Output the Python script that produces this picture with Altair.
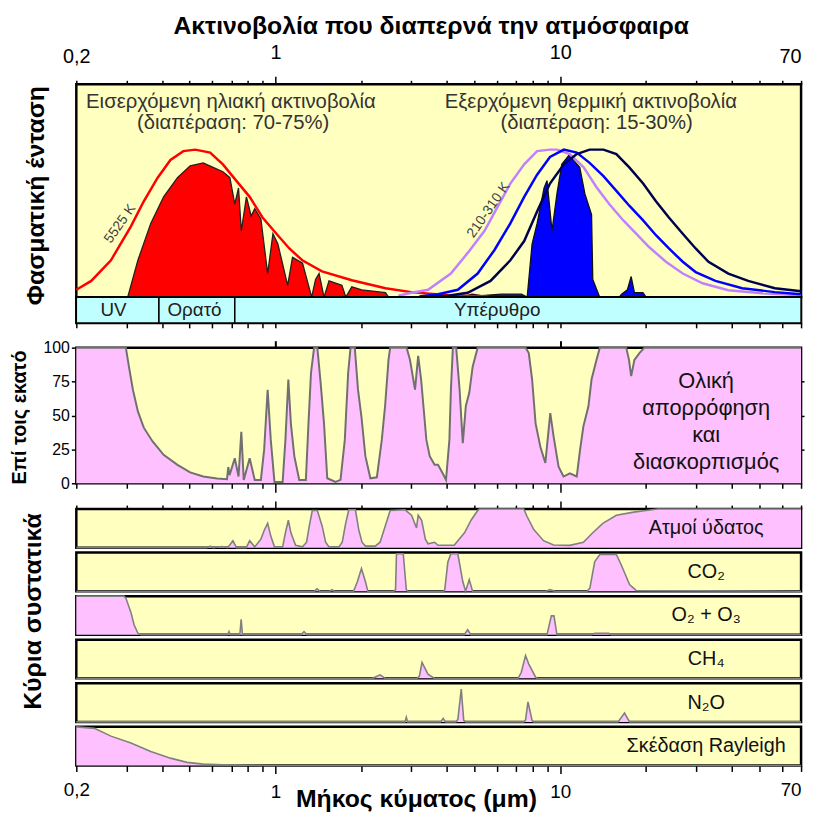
import altair as alt
import pandas as pd

# ---------------- data (wavelength in µm) ----------------
TICK_VALUES = [0.2, 0.3, 0.4, 0.5, 0.6, 0.7, 0.8, 0.9, 1, 2, 3, 4, 5, 6, 7, 8, 9, 10, 20, 30, 40, 50, 60, 70]
LABELLED_TICKS = [0.2, 1, 10, 70]

# incoming solar: 5525 K black-body curve (relative)
SUN_BB_WL = [0.2, 0.2256, 0.2646, 0.311, 0.345, 0.386, 0.428, 0.475, 0.523, 0.59, 0.654, 0.732, 0.812,
             0.901, 1.008, 1.119, 1.242, 1.457, 1.854, 2.434, 2.998, 4.03, 5.55]
SUN_BB_I = [0.05, 0.11, 0.25, 0.48, 0.65, 0.81, 0.93, 0.99, 1.0, 0.98, 0.90, 0.785, 0.68,
            0.54, 0.43, 0.33, 0.25, 0.175, 0.115, 0.06, 0.034, 0.013, 0.005]

# transmitted solar radiation (red area)
SUN_TR_WL = [0.303, 0.329, 0.365, 0.405, 0.453, 0.502, 0.558, 0.604, 0.654, 0.692, 0.720, 0.742, 0.759,
             0.791, 0.822, 0.846, 0.889, 0.939, 0.980, 1.02, 1.104, 1.148, 1.245, 1.340, 1.383, 1.423,
             1.481, 1.542, 1.711, 1.767, 1.854, 2.008, 2.434, 2.494, 2.6]
SUN_TR_I = [0, 0.25, 0.50, 0.68, 0.81, 0.89, 0.91, 0.88, 0.85, 0.81, 0.63, 0.74, 0.45,
            0.68, 0.55, 0.60, 0.53, 0.16, 0.43, 0.36, 0.08, 0.27, 0.23, 0.0, 0.12, 0.16,
            0.0, 0.11, 0.08, 0.0, 0.07, 0.05, 0.03, 0.0, 0.0]

# outgoing thermal black-body curves (relative)
WARM_WL = [2.70, 3.0, 3.434, 4.128, 4.732, 5.42, 6.016, 6.676, 7.468, 8.288, 9.198, 9.728, 10.79,
           12.08, 13.40, 14.87, 16.64, 18.46, 20.48, 23.48, 26.90, 31.57, 38.88, 51.05, 70]
WARM_I = [0.01, 0.03, 0.05, 0.16, 0.30, 0.45, 0.61, 0.77, 0.90, 0.99, 1.0, 1.0, 0.97,
          0.88, 0.745, 0.63, 0.52, 0.43, 0.34, 0.24, 0.16, 0.094, 0.047, 0.027, 0.013]
MID_WL = [3.2, 3.72, 4.368, 5.126, 5.874, 6.676, 7.468, 8.288, 9.198, 10.29, 11.42, 12.67, 14.17,
          15.73, 17.46, 19.53, 21.66, 24.05, 26.90, 29.86, 35.04, 43.50, 56.66, 70]
MID_I = [0.005, 0.02, 0.05, 0.16, 0.32, 0.50, 0.68, 0.83, 0.95, 1.0, 0.98, 0.91, 0.82,
         0.72, 0.62, 0.52, 0.42, 0.33, 0.24, 0.17, 0.11, 0.06, 0.034, 0.02]
COLD_WL = [3.5, 4.03, 4.732, 5.688, 6.676, 7.468, 8.288, 9.198, 10.29, 11.42, 12.67, 14.17, 15.73,
           17.46, 19.53, 21.66, 24.05, 26.90, 29.86, 33.12, 38.88, 45.64, 56.66, 70]
COLD_I = [0.003, 0.01, 0.03, 0.11, 0.25, 0.38, 0.58, 0.77, 0.90, 0.97, 1.0, 1.0, 0.97,
          0.88, 0.77, 0.65, 0.54, 0.43, 0.33, 0.24, 0.16, 0.11, 0.06, 0.04]

# transmitted thermal radiation (blue area)
EARTH_TR_WL = [4.5, 4.9, 5.3, 6.2, 7.3, 7.65, 7.96, 8.29, 8.77, 8.98, 9.35, 9.73, 10.12, 10.8, 11.1,
               11.7, 12.2, 12.87, 13.0, 13.75, 16.1, 16.4, 17.2, 17.73, 18.2, 19.5, 20.0]
EARTH_TR_I = [0, 0.02, 0.01, 0.02, 0.02, 0, 0.36, 0.50, 0.74, 0.79, 0.45, 0.70, 0.90, 0.97, 0.93,
              0.88, 0.70, 0.56, 0.12, 0, 0, 0.02, 0.05, 0.14, 0.03, 0.03, 0]

# spectral regions
BAND_START = [0.2, 0.39, 0.72]
BAND_END = [0.39, 0.72, 70]
BAND_LABEL = ["UV", "Ορατό", "Υπέρυθρο"]
BAND_LABEL_WL = [0.27, 0.52, 6.0]

# total absorption and scattering (%)
ABS_WL = [0.2, 0.2985, 0.306, 0.316, 0.329, 0.345, 0.370, 0.405, 0.453, 0.502, 0.558, 0.624, 0.676, 0.683,
          0.69, 0.720, 0.742, 0.759, 0.774, 0.812, 0.846, 0.889, 0.913, 0.939, 0.963, 0.992, 1.06, 1.084,
          1.110, 1.133, 1.165, 1.212, 1.279, 1.306, 1.333, 1.367, 1.403, 1.441, 1.481, 1.520, 1.625, 1.692,
          1.752, 1.800, 1.835, 1.899, 1.949, 2.004, 2.069, 2.154, 2.27, 2.362, 2.426, 2.494, 2.528, 2.887,
          2.967, 3.09, 3.17, 3.246, 3.387, 3.48, 3.62, 3.72, 3.872, 3.97, 4.08, 4.13, 4.196, 4.31, 4.43,
          4.546, 4.66, 4.79, 4.924, 5.126, 7.55, 7.75, 7.962, 8.19, 8.51, 8.86, 9.22, 9.47, 9.86, 10.26,
          10.8, 11.42, 11.73, 12.05, 12.55, 12.87, 13.40, 13.76, 17.04, 17.42, 17.73, 18.2, 18.95, 19.73, 70]
ABS_V = [100, 100, 86, 69, 53, 41, 31, 21, 13.6, 8, 5, 3.5, 3, 12,
         6, 18.5, 5, 38, 2.5, 18.5, 2.5, 2.5, 25, 69, 32, 1, 1, 32,
         76.5, 44, 20, 2.5, 2.5, 44, 81.5, 100, 100, 74, 44, 3.7, 1, 2.5,
         32, 81.5, 100, 100, 69, 49, 20, 3.7, 4.4, 32, 57, 91, 100, 100,
         91, 69, 94, 76.5, 32, 20, 13.6, 13.6, 7, 2.5, 32, 69, 100, 100, 69,
         29.6, 57, 66.7, 86, 100, 100, 96, 76.5, 44, 27, 15, 51.8, 34.6, 12.3, 5,
         7.4, 5, 24.7, 42, 56.8, 76.5, 91, 100, 100, 91, 79, 91, 96, 100, 100]

# main constituents (% absorption)
H2O_WL = [0.2, 0.574, 0.590, 0.604, 0.65, 0.68, 0.709, 0.73, 0.79, 0.812, 0.846, 0.889, 0.916, 0.939, 0.963,
          0.992, 1.06, 1.084, 1.11, 1.133, 1.177, 1.245, 1.286, 1.314, 1.347, 1.403, 1.46, 1.50, 1.542, 1.67,
          1.716, 1.764, 1.809, 1.909, 1.96, 2.013, 2.069, 2.24, 2.33, 2.426, 2.528, 2.85, 3.004, 3.128, 3.17,
          3.26, 3.36, 3.434, 3.62, 3.72, 4.24, 4.61, 4.86, 5.126, 5.2, 7.44, 7.65, 8.07, 8.73, 9.47, 10.8,
          12.05, 13.0, 14.1, 15.73, 18.1, 20.0, 22.0, 70]
H2O_V = [0, 0, 4, 0, 3, 0, 18, 0, 0, 18, 2, 22, 47, 63, 30,
         2, 2, 38.5, 71, 38.5, 6, 2, 14, 55, 96, 96, 55, 14, 2, 2,
         14, 63, 98, 98, 47, 14, 4, 4, 14, 55, 96, 98, 84, 51, 84,
         71, 22, 10, 14, 6, 6, 38.5, 71, 96, 100, 100, 80, 47, 18, 7, 6,
         14, 38.5, 63, 84, 92, 96, 100, 100]
CO2_WL = [0.2, 1.37, 1.40, 1.43, 1.55, 1.58, 1.61, 1.88, 1.94, 2.004, 2.069, 2.11, 2.60, 2.64, 2.66, 2.81,
          2.88, 2.92, 3.90, 3.93, 4.03, 4.13, 4.368, 4.546, 4.65, 4.79, 4.92, 8.9, 9.2, 9.6, 12.4, 12.7,
          13.2, 13.76, 15.73, 16.37, 17.5, 18.46, 70]
CO2_V = [0, 0, 6, 0, 0, 4, 0, 0, 25, 59, 25, 0, 0, 4, 97, 97,
         4, 0, 0, 4, 76, 97, 97, 25, 0, 30, 0, 0, 4, 0, 0, 8,
         76, 95, 95, 68, 17, 2, 0]
O3_WL = [0.2, 0.294, 0.2985, 0.311, 0.319, 0.329, 0.337, 0.68, 0.687, 0.694, 0.75, 0.758, 0.766, 1.23,
         1.26, 1.29, 4.6, 4.73, 4.85, 8.98, 9.3, 9.5, 9.73, 12.9, 13.2, 14.8, 15.1, 70]
O3_V = [100, 100, 95, 58, 26, 4, 0, 0, 8, 0, 0, 40, 0, 0,
        8, 0, 0, 13, 0, 0, 49, 49, 0, 0, 4, 4, 0, 0]
CH4_WL = [0.2, 2.19, 2.33, 2.43, 3.13, 3.2, 3.27, 3.43, 3.62, 7.1, 7.29, 7.55, 7.75, 8.19, 8.3, 70]
CH4_V = [0, 0, 9, 0, 0, 5, 41, 11, 0, 0, 15, 59, 37, 3, 0, 0]
N2O_WL = [0.2, 2.85, 2.88, 2.91, 3.8, 3.88, 3.95, 4.3, 4.37, 4.49, 4.58, 4.65, 7.45, 7.55, 7.70, 7.96,
          8.05, 15.95, 16.8, 17.5, 70]
N2O_V = [0, 0, 12, 0, 0, 9, 0, 0, 7, 85, 4, 0, 0, 5, 52, 4, 0, 0, 23, 0, 0]
RAY_WL = [0.2, 0.2316, 0.2646, 0.311, 0.365, 0.428, 0.489, 0.558, 0.653, 0.75, 0.953, 70]
RAY_V = [100, 96, 76, 58, 36, 19, 8, 3.5, 1.8, 1, 0, 0]

COMPONENT_NAMES = ["Ατμοί ύδατος", "CO₂", "O₂ + O₃", "CH₄", "N₂O", "Σκέδαση Rayleigh"]
COMPONENT_WL = [H2O_WL, CO2_WL, O3_WL, CH4_WL, N2O_WL, RAY_WL]
COMPONENT_V = [H2O_V, CO2_V, O3_V, CH4_V, N2O_V, RAY_V]

# annotation text and anchor positions (data coordinates)
TOP_TEXT = ["Εισερχόμενη ηλιακή ακτινοβολία", "(διαπέραση: 70-75%)",
            "Εξερχόμενη θερμική ακτινοβολία", "(διαπέραση: 15-30%)"]
TOP_TEXT_WL = [0.698, 0.71, 12.8, 13.4]
TOP_TEXT_I = [1.32, 1.18, 1.32, 1.18]
TEMP_TEXT = ["5525 K", "210-310 K"]
TEMP_TEXT_WL = [0.285, 5.6]
TEMP_TEXT_I = [0.497, 0.59]
MID_TEXT = "Ολική\nαπορρόφηση\nκαι\nδιασκορπισμός"
MID_TEXT_V = 75
LABEL_WL = 32.5

# ---------------- styling ----------------
YELLOW = "#FFFFC0"
PINK = "#FFC0FF"
CYAN = "#C0FFFF"
FONT = "Liberation Sans, Arial, sans-serif"
W = 732
LABEL_EXPR = ("indexof([0.2,1,10,70], datum.value) >= 0 ? "
              "replace(format(datum.value, '~g'), '.', ',') : ''")
LAST_LABEL_ALIGN = {"condition": {"test": "datum.value == 70", "value": "right"}, "value": "center"}


def tick_size(major, minor):
    return {"condition": {"test": "datum.value == 1 || datum.value == 10", "value": major}, "value": minor}


def XS():
    return alt.Scale(type="log", domain=[0.2, 70], nice=False)


def xenc(field, axis):
    return alt.X(field, type="quantitative", scale=XS(), axis=axis)


def spacer(h):
    return alt.Chart(pd.DataFrame({"a": [1]})).mark_point(opacity=0).encode(
        x=alt.X("a:Q", axis=None), y=alt.Y("a:Q", axis=None)
    ).properties(width=W, height=h, view=alt.ViewBackground(fill="transparent", stroke="transparent"))


# ---------------- top panel ----------------
def series(wl, v, name):
    return pd.DataFrame({"wl": wl, "v": v, "s": name})


top_df = pd.concat([
    series(SUN_BB_WL, SUN_BB_I, "sun_bb"),
    series(SUN_TR_WL, SUN_TR_I, "sun_tr"),
    series(WARM_WL, WARM_I, "warm"),
    series(MID_WL, MID_I, "mid"),
    series(COLD_WL, COLD_I, "cold"),
    series(EARTH_TR_WL, EARTH_TR_I, "earth_tr"),
], ignore_index=True)

top_x_axis = alt.Axis(orient="top", values=TICK_VALUES, labelExpr=LABEL_EXPR, labelOverlap=False,
                      labelFlush=False, labelAlign=LAST_LABEL_ALIGN,
                      tickSize=tick_size(8, 4), domain=False, tickWidth=1.5, labelPadding=14,
                      labelFontSize=20, title="Ακτινοβολία που διαπερνά την ατμόσφαιρα",
                      titleFontSize=25, titleFontWeight="bold", titleX=358, titleY=-51,
                      titleBaseline="alphabetic")
top_y = alt.Y("v:Q", scale=alt.Scale(domain=[0, 1.443], nice=False),
              axis=alt.Axis(title="Φασματική ένταση", labels=False, ticks=False, domain=False,
                            titleFontSize=25, titleFontWeight="bold", titleX=-28, titleY=112))
top_x = xenc("wl", top_x_axis)

base = alt.Chart(top_df).encode(x=top_x, y=top_y)
sun_area = base.transform_filter(alt.datum.s == "sun_tr").mark_area(color="#FF0000")
sun_area_line = base.transform_filter(alt.datum.s == "sun_tr").mark_line(color="#202020", strokeWidth=1.3)
earth_area = base.transform_filter(alt.datum.s == "earth_tr").mark_area(color="#0000FF")
earth_area_line = base.transform_filter(alt.datum.s == "earth_tr").mark_line(color="#101010", strokeWidth=1.3)
sun_bb = base.transform_filter(alt.datum.s == "sun_bb").mark_line(color="#FF0000", strokeWidth=2.5)
warm = base.transform_filter(alt.datum.s == "warm").mark_line(color="#C080FF", strokeWidth=2.5)
midc = base.transform_filter(alt.datum.s == "mid").mark_line(color="#0000FF", strokeWidth=2.5)
cold = base.transform_filter(alt.datum.s == "cold").mark_line(color="#000050", strokeWidth=2.5)

top_txt_df = pd.DataFrame({"wl": TOP_TEXT_WL, "v": TOP_TEXT_I, "t": TOP_TEXT})
top_txt = alt.Chart(top_txt_df).mark_text(fontSize=20.5, font=FONT, color="#333333", baseline="middle").encode(
    x=top_x, y=top_y, text="t:N")
temp_df = pd.DataFrame({"wl": TEMP_TEXT_WL, "v": TEMP_TEXT_I, "t": TEMP_TEXT})
temp_txt = alt.Chart(temp_df).mark_text(fontSize=14, font=FONT, color="#404040", angle=305,
                                        baseline="middle").encode(x=top_x, y=top_y, text="t:N")

top_panel = alt.layer(sun_area, earth_area, sun_area_line, earth_area_line, sun_bb, warm, midc, cold,
                      top_txt, temp_txt).properties(width=W, height=215)

# ---------------- band ----------------
band_df = pd.DataFrame({"start": BAND_START, "end": BAND_END, "label": BAND_LABEL, "mid": BAND_LABEL_WL})
band_axis = alt.Axis(orient="bottom", values=TICK_VALUES, labels=False, tickSize=5, tickWidth=1.5,
                     domain=False, title=None)
band_rect = alt.Chart(band_df).mark_rect(fill=CYAN, stroke="black", strokeWidth=1.5).encode(
    x=xenc("start", band_axis), x2="end:Q")
band_txt = alt.Chart(band_df).mark_text(fontSize=19, font=FONT, color="#202020", baseline="middle").encode(
    x=xenc("mid", band_axis), text="label:N")
band_panel = alt.layer(band_rect, band_txt).properties(width=W, height=26)

# ---------------- middle panel ----------------
abs_df = pd.DataFrame({"wl": ABS_WL, "v": ABS_V})
ysc = alt.Scale(domain=[0, 100], nice=False)
mid_x_bottom = alt.Axis(orient="bottom", values=TICK_VALUES, labels=False, domain=False,
                        tickSize=tick_size(9, 5), tickWidth=1.5, title=None)
mid_x_top = alt.Axis(orient="top", values=[1, 10], labels=False, domain=False, tickSize=7,
                     tickWidth=2, title=None)
mid_y_left = alt.Axis(orient="left", values=[0, 25, 50, 75, 100], tickSize=5, tickWidth=1.5, domain=False,
                      labelFontSize=16, labelPadding=2, title="Επί τοις εκατό", titleFontSize=20,
                      titleFontWeight="bold", titleX=-47, titleY=70)
mid_y_right = alt.Axis(orient="right", values=[25, 50, 75], labels=False, tickSize=3, tickWidth=1.5,
                       domain=False, title=None)
mid_area = alt.Chart(abs_df).mark_area(color=PINK).encode(
    x=xenc("wl", mid_x_bottom), y=alt.Y("v:Q", scale=ysc, axis=mid_y_left))
mid_line = alt.Chart(abs_df).mark_line(color="#707070", strokeWidth=2).encode(
    x=xenc("wl", mid_x_top), y=alt.Y("v:Q", scale=ysc, axis=mid_y_right))
mid_txt = alt.Chart(pd.DataFrame({"wl": [LABEL_WL], "v": [MID_TEXT_V], "t": [MID_TEXT]})).mark_text(
    fontSize=22, font=FONT, color="#111111", lineBreak="\n", lineHeight=27, baseline="middle").encode(
    x=xenc("wl", None), y=alt.Y("v:Q", scale=ysc, axis=None), text="t:N")
mid_panel = alt.layer(mid_area, mid_line, mid_txt).resolve_axis(x="independent", y="independent").properties(
    width=W, height=137)

# ---------------- component panels ----------------
comp_panels = []
for i, (name, wl, v) in enumerate(zip(COMPONENT_NAMES, COMPONENT_WL, COMPONENT_V)):
    df = pd.DataFrame({"wl": wl, "v": v})
    if i == 0:
        xa = alt.Axis(orient="top", values=TICK_VALUES, labels=False, domain=False,
                      tickSize=tick_size(8, 4), tickWidth=1.5, title=None)
    elif i == 5:
        xa = alt.Axis(orient="bottom", values=TICK_VALUES, labelExpr=LABEL_EXPR, labelOverlap=False,
                      labelFlush=False, labelAlign=LAST_LABEL_ALIGN,
                      domain=False, tickSize=tick_size(8, 6), tickWidth=1.5, labelFontSize=19,
                      labelPadding=9, title="Μήκος κύματος (μm)", titleFontSize=25, titleFontWeight="bold",
                      titleX=343, titleY=41, titleBaseline="alphabetic")
    else:
        xa = None
    if i == 2:
        ya = alt.Axis(title="Κύρια συστατικά", labels=False, ticks=False, domain=False, titleFontSize=25,
                      titleFontWeight="bold", titleX=-31, titleY=15)
    else:
        ya = None
    xe = xenc("wl", xa)
    ye = alt.Y("v:Q", scale=alt.Scale(domain=[0, 100], nice=False), axis=ya)
    area = alt.Chart(df).mark_area(color=PINK).encode(x=xe, y=ye)
    line = alt.Chart(df).mark_line(color="#808080", strokeWidth=1.6).encode(x=xe, y=ye)
    txt = alt.Chart(pd.DataFrame({"wl": [LABEL_WL], "v": [50], "t": [name]})).mark_text(
        fontSize=20, font=FONT, color="#111111", baseline="middle").encode(x=xe, y=ye, text="t:N")
    comp_panels.append(alt.layer(area, line, txt).properties(width=W, height=39))

rows = [top_panel, band_panel, spacer(25), mid_panel, spacer(26)]
for k, p in enumerate(comp_panels):
    if k > 0:
        rows.append(spacer(4.5))
    rows.append(p)

chart = alt.vconcat(*rows, spacing=0, bounds="flush").properties(
    padding={"left": 0, "top": 0, "right": 0, "bottom": 0}
).configure_view(
    fill=YELLOW, stroke="black", strokeWidth=2.5
).configure_axis(
    grid=False, labelFont=FONT, titleFont=FONT, labelColor="black", titleColor="black", tickColor="black"
)

chart.save("out.html", embed_options={"renderer": "svg", "actions": False})
